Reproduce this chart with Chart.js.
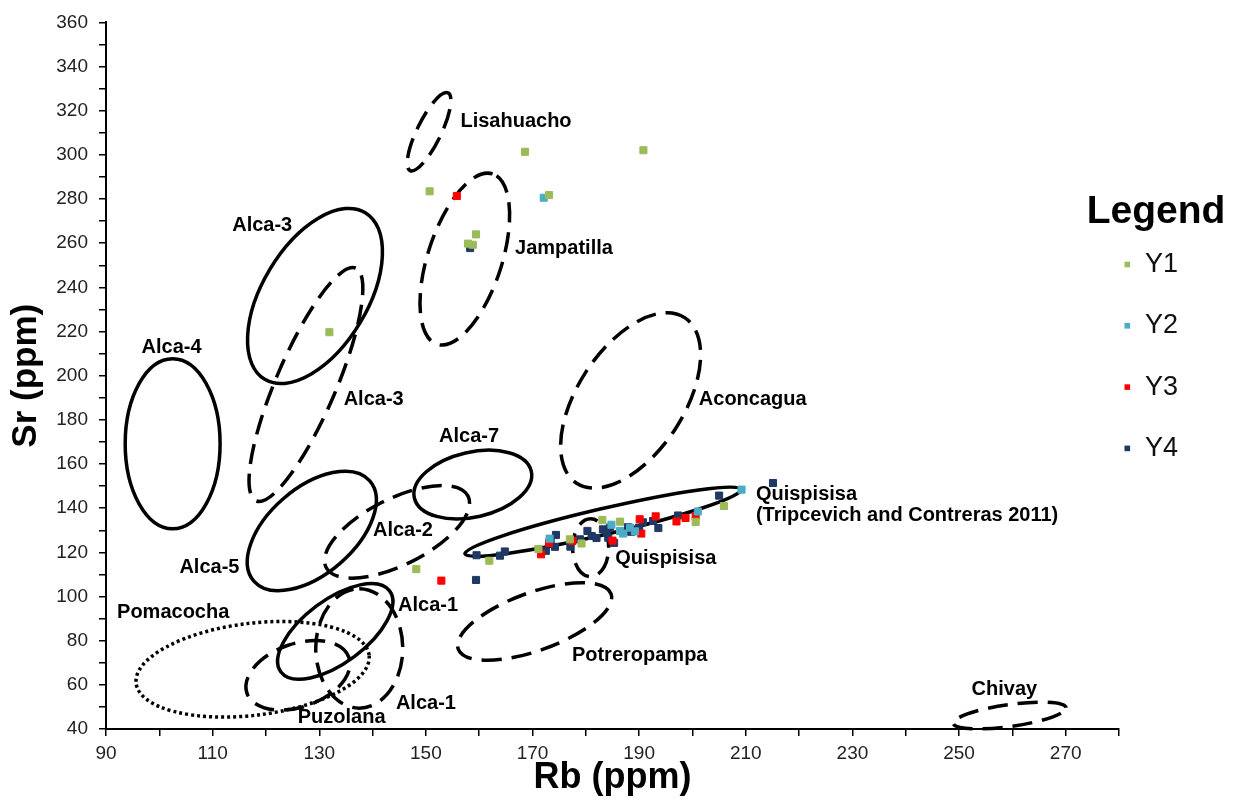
<!DOCTYPE html>
<html>
<head>
<meta charset="utf-8">
<title>Rb vs Sr</title>
<script src="https://cdn.jsdelivr.net/npm/chart.js@4.4.1/dist/chart.umd.min.js"></script>
<style>
  html, body { margin: 0; padding: 0; background: #fff; }
  #wrap { position: relative; width: 1236px; height: 801px; }
</style>
</head>
<body>
<div id="wrap"><canvas id="chart"></canvas></div>
<script>
// --- Data ---
const seriesNames = ['Y1', 'Y2', 'Y3', 'Y4'];

// [Rb, Sr] in ppm
const y1Points = [
  [131.9, 219.7], [148.2, 112.4], [150.7, 283.5], [157.9, 259.8], [158.8, 259.3],
  [159.4, 264.0], [161.9, 116.2], [168.6, 301.4], [171.1, 121.5], [173.1, 281.8],
  [177.0, 125.9], [179.2, 124.0], [183.1, 134.7], [186.4, 133.9], [190.8, 302.1],
  [200.6, 133.8], [205.9, 141.0]
];
const y2Points = [
  [172.1, 280.6], [173.2, 126.2], [184.8, 132.5], [186.4, 129.7], [187.0, 128.5],
  [188.3, 131.2], [189.2, 129.5], [201.0, 138.5], [209.2, 148.4]
];
const y3Points = [
  [155.8, 281.4], [152.9, 107.2], [171.6, 119.1], [173.1, 124.3], [177.5, 125.2],
  [185.0, 125.3], [190.1, 135.0], [190.4, 128.5], [193.1, 136.3], [197.0, 134.0],
  [198.7, 135.6], [200.6, 136.4]
];
const y4Points = [
  [158.3, 257.8], [159.4, 107.5], [159.5, 118.7], [163.9, 118.5], [164.8, 120.4],
  [172.5, 120.7], [173.4, 125.5], [174.2, 122.5], [174.4, 127.9], [177.1, 122.6],
  [178.9, 125.9], [180.3, 129.7], [181.1, 127.4], [182.0, 126.5], [183.2, 130.4],
  [183.9, 128.9], [184.5, 131.2], [184.2, 126.6], [185.3, 124.3], [187.9, 131.4],
  [188.5, 129.3], [190.0, 131.2], [190.7, 133.6], [192.6, 134.2], [193.6, 131.0],
  [197.3, 136.7], [205.0, 145.7], [215.1, 151.4]
];

// Source fields: ellipse centre + two conjugate semi-diameters, all in ppm
const ellipseNames = [
  'Alca-4', 'Alca-3', 'Alca-3 (dashed)', 'Alca-5', 'Alca-2', 'Alca-7',
  'Quispisisa (Tripcevich)', 'Quispisisa', 'Potreropampa', 'Aconcagua',
  'Jampatilla', 'Lisahuacho', 'Chivay', 'Pomacocha', 'Alca-1', 'Alca-1 (dashed)', 'Puzolana'
];
const ellipseCenters = [
  [102.5, 169.2], [129.2, 236.1], [127.5, 196.0], [128.6, 129.7], [144.6, 129.3], [158.8, 150.7],
  [183.25, 133.9], [180.9, 122.1], [170.4, 88.7], [188.4, 188.8],
  [157.3, 252.8], [150.6, 310.5], [259.5, 46.1], [117.5, 67.05], [133.0, 84.2], [137.5, 76.5], [126.0, 64.3]
];
const ellipseAxisU = [
  [8.9, 0], [9.43, 37.75], [9.34, 52.7], [10.87, 22.7], [13.31, 16.17], [10.96, 6.09],
  [25.93, 14.62], [3.38, 0], [14.33, 12.54], [10.13, 37.49],
  [5.21, 38.59], [3.56, 17.6], [10.58, 3.57], [21.85, 6.4], [10.19, 18.37], [0, 27.05], [9.55, 8.13]
];
const ellipseAxisV = [
  [0, 38.5], [-8.44, 12.19], [-5.17, 5.3], [-5.3, 14.67], [-2.81, 13.37], [-1.38, 14.32],
  [-0.56, 5.71], [0, 13.1], [-1.87, 12.33], [-8.35, 13.05],
  [-6.6, 5.15], [-2.02, 2.37], [-0.29, 4.91], [-1.05, 20.67], [-3.57, 11.43], [8.16, 0], [-1.99, 13.52]
];
const ellipseKinds = [
  'solid', 'solid', 'dashed', 'solid', 'dashed', 'solid',
  'solid', 'dashed', 'dashed', 'dashed',
  'dashed', 'dashed', 'dashed', 'dotted', 'solid', 'dashed', 'dashed'
];

// Field labels, anchored in ppm
const labelTexts = [
  'Lisahuacho', 'Jampatilla', 'Alca-3', 'Alca-4', 'Alca-3', 'Aconcagua', 'Alca-7',
  'Quispisisa', '(Tripcevich and Contreras 2011)', 'Alca-2', 'Quispisisa', 'Alca-5',
  'Alca-1', 'Pomacocha', 'Potreropampa', 'Alca-1', 'Puzolana', 'Chivay'
];
const labelPoints = [
  [166.9, 315.3], [175.9, 257.8], [119.3, 268.1], [102.3, 212.7], [140.2, 189.2], [211.3, 189.2], [158.1, 172.6],
  [211.9, 146.4], [211.9, 136.5], [145.7, 129.7], [195.0, 117.1], [109.4, 113.0],
  [150.4, 95.9], [102.6, 92.9], [190.1, 73.4], [150.0, 51.7], [134.2, 45.0], [258.5, 58.0]
];
const labelAlign = [
  'center', 'center', 'center', 'center', 'center', 'center', 'center',
  'left', 'left', 'center', 'center', 'center',
  'center', 'center', 'center', 'center', 'center', 'center'
];

const xTickLabels = [90, 110, 130, 150, 170, 190, 210, 230, 250, 270];
const yTickLabels = [40, 60, 80, 100, 120, 140, 160, 180, 200, 220, 240, 260, 280, 300, 320, 340, 360];

// --- Styles ---
const FONT = 'Liberation Sans, Arial, sans-serif';
const seriesColors = ['#9BBB59', '#4BACC6', '#FF0000', '#1F3864'];
const dashFor = { solid: [], dashed: [20, 10], dotted: [3, 3] };

// --- Plugins ---
const ellipsePlugin = {
  id: 'fieldEllipses',
  beforeDatasetsDraw(chart) {
    const { ctx, scales: { x, y } } = chart;
    ctx.save();
    ctx.strokeStyle = '#000';
    ctx.lineWidth = 3.5;
    ellipseCenters.forEach((c, i) => {
      const u = ellipseAxisU[i];
      const v = ellipseAxisV[i];
      const cx = x.getPixelForValue(c[0]);
      const cy = y.getPixelForValue(c[1]);
      const ux = x.getPixelForValue(c[0] + u[0]) - cx;
      const uy = y.getPixelForValue(c[1] + u[1]) - cy;
      const vx = x.getPixelForValue(c[0] + v[0]) - cx;
      const vy = y.getPixelForValue(c[1] + v[1]) - cy;
      ctx.save();
      ctx.beginPath();
      ctx.transform(ux, uy, vx, vy, cx, cy);
      ctx.arc(0, 0, 1, 0, Math.PI * 2);
      ctx.restore(); // path survives, transform doesn't -> even stroke width
      ctx.setLineDash(dashFor[ellipseKinds[i]]);
      ctx.stroke();
    });
    ctx.restore();
  }
};

const labelPlugin = {
  id: 'fieldLabels',
  afterDatasetsDraw(chart) {
    const { ctx, scales: { x, y } } = chart;
    ctx.save();
    ctx.fillStyle = '#000';
    ctx.font = 'bold 20px ' + FONT;
    ctx.textBaseline = 'middle';
    labelTexts.forEach((t, i) => {
      ctx.textAlign = labelAlign[i];
      ctx.fillText(t, x.getPixelForValue(labelPoints[i][0]), y.getPixelForValue(labelPoints[i][1]));
    });
    ctx.restore();
  }
};

const legendPlugin = {
  id: 'sideLegend',
  afterDraw(chart) {
    const ctx = chart.ctx;
    ctx.save();
    ctx.fillStyle = '#000';
    ctx.textAlign = 'center';
    ctx.textBaseline = 'alphabetic';
    ctx.font = 'bold 39px ' + FONT;
    ctx.fillText('Legend', 1156, 223);
    ctx.textAlign = 'left';
    ctx.textBaseline = 'middle';
    ctx.font = '27px ' + FONT;
    chart.data.datasets.forEach((ds, i) => {
      const yy = 264.5 + i * 61.3;
      ctx.fillStyle = ds.backgroundColor;
      ctx.fillRect(1124.5, yy - 2.8, 5.6, 5.6);
      ctx.fillStyle = '#111';
      ctx.fillText(ds.label, 1145, yy);
    });
    ctx.restore();
  }
};

// --- Chart ---
const toXY = (pts) => pts.map(p => ({ x: p[0], y: p[1] }));
const allPoints = [y1Points, y2Points, y3Points, y4Points];

const datasets = seriesNames.map((name, i) => ({
  label: name,
  data: toXY(allPoints[i]),
  backgroundColor: seriesColors[i],
  borderColor: seriesColors[i],
  borderWidth: 1,
  pointStyle: 'rect',
  pointRadius: 5,
  showLine: false
}));

const axisCommon = {
  border: { display: true, color: '#000', width: 2 },
  grid: { drawOnChartArea: false, drawTicks: true, tickLength: 7, color: '#000', lineWidth: 1.5 }
};

new Chart(document.getElementById('chart').getContext('2d'), {
  type: 'scatter',
  data: { datasets: datasets },
  plugins: [ellipsePlugin, labelPlugin, legendPlugin],
  options: {
    responsive: true,
    maintainAspectRatio: false,
    animation: false,
    layout: { padding: { left: 0, right: 117, top: 19, bottom: 0 } },
    plugins: {
      legend: { display: false },
      tooltip: { enabled: false }
    },
    scales: {
      x: {
        ...axisCommon,
        type: 'linear',
        min: 90,
        max: 280,
        afterFit: (s) => { s.height = 72; },
        ticks: {
          stepSize: 10,
          autoSkip: false,
          maxRotation: 0,
          padding: 6,
          color: '#222',
          font: { family: FONT, size: 19 },
          callback: (v) => xTickLabels.includes(v) ? String(v) : ''
        },
        title: {
          display: true,
          text: 'Rb (ppm)',
          color: '#000',
          font: { family: FONT, size: 36, weight: 'bold' },
          padding: { top: 0, bottom: 1 }
        }
      },
      y: {
        ...axisCommon,
        type: 'linear',
        min: 40,
        max: 360,
        afterFit: (s) => { s.width = 106; },
        ticks: {
          stepSize: 10,
          autoSkip: false,
          padding: 11,
          color: '#222',
          font: { family: FONT, size: 19 },
          callback: (v) => yTickLabels.includes(v) ? String(v) : ''
        },
        title: {
          display: true,
          text: 'Sr (ppm)',
          color: '#000',
          font: { family: FONT, size: 35, weight: 'bold' },
          padding: { top: 5, bottom: 0 }
        }
      }
    }
  }
});
</script>
</body>
</html>
